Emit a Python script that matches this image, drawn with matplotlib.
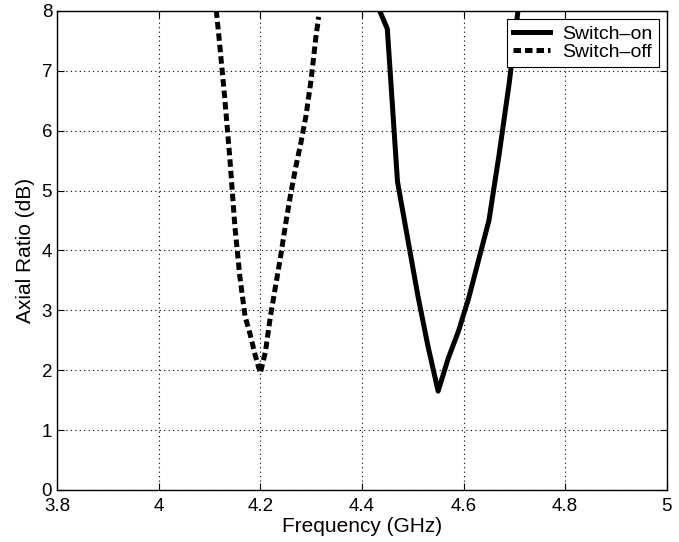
import matplotlib
matplotlib.use("Agg")
import matplotlib.pyplot as plt

plt.rcParams["font.family"] = ["Liberation Sans", "DejaVu Sans"]

# Switch-on (solid)
freq_on = [4.43, 4.45, 4.47, 4.49, 4.51, 4.53, 4.55, 4.57, 4.59, 4.61,
           4.63, 4.65, 4.67, 4.69, 4.71]
ar_on = [8.1, 7.7, 5.15, 4.2, 3.25, 2.4, 1.65, 2.2, 2.65, 3.2,
         3.85, 4.5, 5.6, 6.8, 8.2]

# Switch-off (dashed)
freq_off = [4.11, 4.12, 4.13, 4.14, 4.15, 4.16, 4.17, 4.18, 4.19, 4.20,
            4.21, 4.22, 4.23, 4.24, 4.25, 4.26, 4.27, 4.28, 4.29, 4.30,
            4.31, 4.315]
ar_off = [8.3, 7.45, 6.55, 5.55, 4.4, 3.55, 2.9, 2.6, 2.25, 1.95,
          2.3, 2.9, 3.4, 3.9, 4.45, 4.95, 5.4, 5.8, 6.25, 6.85,
          7.6, 7.9]

xticks = [3.8, 4, 4.2, 4.4, 4.6, 4.8, 5]
xticklabels = ["3.8", "4", "4.2", "4.4", "4.6", "4.8", "5"]
yticks = list(range(0, 9))

fig = plt.figure(figsize=(6.79, 5.42), dpi=100)
ax = fig.add_axes([0.084, 0.096, 0.898, 0.884])

ax.plot(freq_on, ar_on, color="black", linewidth=3.6, label="Switch\u2013on")
ax.plot(freq_off, ar_off, color="black", linewidth=3.6, dashes=(1.5, 0.8),
        label="Switch\u2013off")

ax.set_xlim(3.8, 5)
ax.set_ylim(0, 8)
ax.set_xticks(xticks)
ax.set_xticklabels(xticklabels)
ax.set_yticks(yticks)
ax.tick_params(direction="in", top=True, right=True, labelsize=13.5, length=5)
ax.tick_params(axis="x", pad=6)
ax.grid(True, color="black", linestyle=(0, (1, 3)), linewidth=0.8)
for s in ax.spines.values():
    s.set_linewidth(1.0)

ax.set_xlabel("Frequency (GHz)", fontsize=15, labelpad=1)
ax.set_ylabel("Axial Ratio (dB)", fontsize=15, labelpad=5)

leg = ax.legend(loc="upper right", fontsize=14, fancybox=False,
                framealpha=1, edgecolor="black", borderaxespad=0.4,
                handlelength=1.9, handletextpad=0.6, borderpad=0.35,
                labelspacing=0.0)
leg.get_frame().set_linewidth(0.8)

fig.savefig("out.png", dpi=100)
